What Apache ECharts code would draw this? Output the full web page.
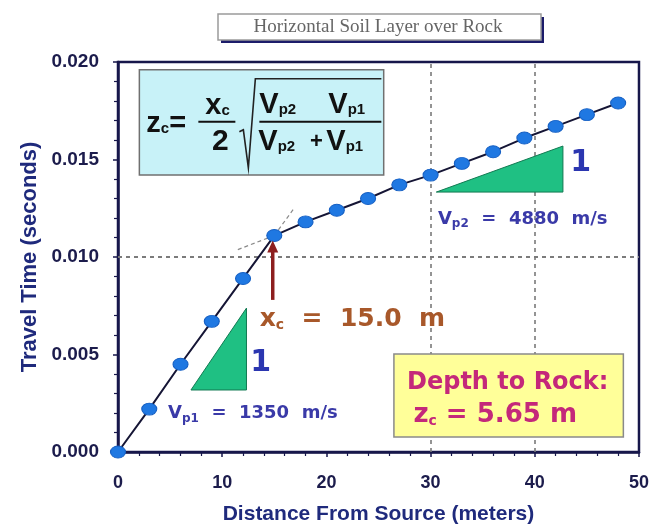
<!DOCTYPE html>
<html><head><meta charset="utf-8">
<script src="https://cdn.jsdelivr.net/npm/echarts@6/dist/echarts.min.js"></script>
<style>html,body{margin:0;padding:0;background:#fff}#c{width:652px;height:530px}</style>
</head><body><div id="c"></div>
<script>
// ---- data ----
const distances = [0, 3, 6, 9, 12, 15, 18, 21, 24, 27, 30, 33, 36, 39, 42, 45, 48];
const travelTimes = [0, 0.0022, 0.0045, 0.0067, 0.0089, 0.0111, 0.0118, 0.0124, 0.0130, 0.0137, 0.0142, 0.0148, 0.0154, 0.0161, 0.0167, 0.0173, 0.0179];
const xTickValues = [0, 10, 20, 30, 40, 50];
const yTickValues = [0, 0.005, 0.010, 0.015, 0.020];
const xGridLines = [30, 40];
const yGridLines = [0.005, 0.010, 0.015];
const titleText = 'Horizontal Soil Layer over Rock';
const xAxisName = 'Distance From Source (meters)';
const yAxisName = 'Travel Time (seconds)';

const navy = '#17174b';
const chart = echarts.init(document.getElementById('c'));
const points = distances.map((d, i) => [d, travelTimes[i]]);

chart.setOption({
  animation: false,
  grid: { left: 118, right: 6, top: 62, bottom: 78, show: true, borderColor: navy, borderWidth: 2.5, backgroundColor: 'transparent' },
  xAxis: {
    type: 'value', min: xTickValues[0], max: xTickValues[xTickValues.length - 1], interval: 10,
    axisLine: { lineStyle: { color: navy, width: 2.5 } },
    axisTick: { show: true, length: 5, lineStyle: { color: navy, width: 1.5 } },
    minorTick: { show: true, splitNumber: 5, length: 4, lineStyle: { color: navy, width: 1.2 } },
    splitLine: { show: false },
    axisLabel: { color: '#1c1c4c', fontFamily: 'Liberation Sans', fontWeight: 'bold', fontSize: 18, margin: 22 },
    name: xAxisName, nameLocation: 'middle', nameGap: 52,
    nameTextStyle: { color: '#1f2a7c', fontFamily: 'Liberation Sans', fontWeight: 'bold', fontSize: 21 }
  },
  yAxis: {
    type: 'value', min: yTickValues[0], max: yTickValues[yTickValues.length - 1], interval: 0.005,
    axisLine: { show: true, lineStyle: { color: navy, width: 2.5 } },
    axisTick: { show: true, length: 5, lineStyle: { color: navy, width: 1.5 } },
    minorTick: { show: true, splitNumber: 5, length: 4, lineStyle: { color: navy, width: 1.2 } },
    splitLine: { show: false },
    axisLabel: { color: '#1c1c4c', fontFamily: 'Liberation Sans', fontWeight: 'bold', fontSize: 19, margin: 19, formatter: v => v.toFixed(3) },
    name: yAxisName, nameLocation: 'middle', nameGap: 76, nameRotate: 90,
    nameTextStyle: { color: '#1f2a7c', fontFamily: 'Liberation Sans', fontWeight: 'bold', fontSize: 22 }
  },
  series: [
    {
      type: 'line', data: [], silent: true, z: 1,
      markLine: {
        silent: true, symbol: ['none', 'none'], label: { show: false }, animation: false,
        lineStyle: { color: '#7a7a7a', type: [4, 4], width: 1.6 },
        data: xGridLines.map(v => ({ xAxis: v })).concat(yGridLines.map(v => ({ yAxis: v })))
      }
    },
    {
      type: 'line', data: points, z: 10,
      lineStyle: { color: '#151535', width: 2 },
      symbol: 'circle', symbolSize: [15, 12],
      itemStyle: { color: '#1f78e2', borderColor: '#1660c4', borderWidth: 1 }
    }
  ]
});

const P = (x, y) => chart.convertToPixel({ gridIndex: 0 }, [x, y]);

function rt(x, y, str, o) {
  const fam = o.family || 'DejaVu Sans';
  const w = o.weight || 'bold';
  return {
    type: 'text', x: x, y: y, z: o.z || 60,
    style: {
      text: str, fill: o.color, align: o.align || 'left', verticalAlign: 'middle',
      fontFamily: fam, fontWeight: w, fontSize: o.size,
      rich: {
        n: { fontFamily: fam, fontWeight: w, fontSize: o.size },
        s: { fontFamily: fam, fontWeight: w, fontSize: o.sub || 12, padding: [(o.drop || 5) * 2, 0, 0, 0] }
      }
    }
  };
}
function ln(x1, y1, x2, y2, color, width, dash, z) {
  return { type: 'line', z: z || 60, shape: { x1, y1, x2, y2 }, style: { stroke: color, lineWidth: width, lineDash: dash || null } };
}

const g = [];
// title box
g.push({ type: 'rect', z: 50, shape: { x: 221, y: 17, width: 323, height: 26 }, style: { fill: '#1c1c6a' } });
g.push({ type: 'rect', z: 51, shape: { x: 218, y: 14, width: 323, height: 26 }, style: { fill: '#fff', stroke: '#9a9a9a', lineWidth: 1.5 } });
g.push({ type: 'text', z: 52, x: 378, y: 27, style: { text: titleText, fill: '#666', fontFamily: 'Liberation Serif', fontSize: 19, align: 'center', verticalAlign: 'middle' } });

// formula box
const b0 = P(2.05, 0.0196), b1 = P(25.5, 0.0142);
const ox = b0[0], oy = b0[1];
g.push({ type: 'rect', z: 55, shape: { x: ox, y: oy, width: b1[0] - ox, height: b1[1] - oy }, style: { fill: '#c8f2f8', stroke: '#707070', lineWidth: 1.5 } });
const F = { family: 'Liberation Sans', weight: 'bold', color: '#111', size: 29, sub: 15, drop: 5 };
g.push(rt(ox + 7, oy + 54, '{n|z}{s|c}{n|=}', F));
g.push(rt(ox + 66, oy + 36, '{n|x}{s|c}', F));
g.push(ln(ox + 59, oy + 52, ox + 96, oy + 52, '#111', 2));
g.push(rt(ox + 81, oy + 72, '2', Object.assign({}, F, { align: 'center', size: 30 })));
g.push({ type: 'polyline', z: 60, shape: { points: [[ox + 100, oy + 62], [ox + 104, oy + 60], [ox + 109, oy + 98], [ox + 116, oy + 9], [ox + 242, oy + 9]] }, style: { stroke: '#222', lineWidth: 1.6, fill: null } });
g.push(rt(ox + 120, oy + 35, '{n|V}{s|p2}', F));
g.push(rt(ox + 189, oy + 35, '{n|V}{s|p1}', F));
g.push(ln(ox + 120, oy + 52, ox + 242, oy + 52, '#111', 2));
g.push(rt(ox + 119, oy + 72, '{n|V}{s|p2}', F));
g.push(rt(ox + 177, oy + 72, '+', Object.assign({}, F, { align: 'center', size: 22 })));
g.push(rt(ox + 187, oy + 72, '{n|V}{s|p1}', F));

// triangles
function tri(pts, z) {
  return { type: 'polygon', z: z || 40, shape: { points: pts.map(p => P(p[0], p[1])) }, style: { fill: '#1fc083', stroke: '#127a52', lineWidth: 1 } };
}
g.push(tri([[7.0, 0.00318], [12.33, 0.00318], [12.33, 0.00738]]));
g.push(tri([[30.55, 0.01333], [42.7, 0.01333], [42.7, 0.01569]]));
const one1 = P(13.7, 0.00455), one2 = P(44.4, 0.01482);
g.push(rt(one1[0], one1[1], '1', { color: '#2b36b0', size: 30, align: 'center' }));
g.push(rt(one2[0], one2[1], '1', { color: '#2b36b0', size: 30, align: 'center' }));

// velocity labels
const v1 = P(4.8, 0.00197), v2 = P(30.7, 0.01195);
g.push(rt(v1[0], v1[1], '{n|V}{s|p1}{n|  =  1350  m/s}', { color: '#3a3aa8', size: 18, sub: 12, drop: 5 }));
g.push(rt(v2[0], v2[1], '{n|V}{s|p2}{n|  =  4880  m/s}', { color: '#3a3aa8', size: 18, sub: 12, drop: 5 }));

// crossover dashed extensions
const k = P(15, 0.0111), e1 = P(11.5, 0.01038), e2 = P(16.9, 0.0125);
g.push(ln(e1[0], e1[1], k[0], k[1], '#8a8a8a', 1.2, [4, 3], 5));
g.push(ln(k[0], k[1], e2[0], e2[1], '#8a8a8a', 1.2, [4, 3], 5));

// crossover arrow
const a0 = P(14.85, 0.0078), a1 = P(14.85, 0.01085);
g.push(ln(a0[0], a0[1], a1[0], a1[1] + 10, '#8d1f1f', 3.5));
g.push({ type: 'polygon', z: 61, shape: { points: [[a1[0], a1[1]], [a1[0] - 5.5, a1[1] + 12], [a1[0] + 5.5, a1[1] + 12]] }, style: { fill: '#8d1f1f' } });
const xc = P(13.6, 0.0068);
g.push(rt(xc[0], xc[1], '{n|x}{s|c}{n|  =  15.0  m}', { color: '#a8582a', size: 25, sub: 14, drop: 6 }));

// depth box
const d0 = P(26.48, 0.00503), d1 = P(48.5, 0.00077);
g.push({ type: 'rect', z: 55, shape: { x: d0[0], y: d0[1], width: d1[0] - d0[0], height: d1[1] - d0[1] }, style: { fill: '#ffff99', stroke: '#8a8a8a', lineWidth: 1.5 } });
const t1 = P(37.4, 0.00354), t2 = P(36.2, 0.0019);
g.push(rt(t1[0], t1[1], 'Depth to Rock:', { color: '#c4287a', size: 24, align: 'center' }));
g.push(rt(t2[0], t2[1], '{n|z}{s|c}{n| = 5.65 m}', { color: '#c4287a', size: 26, sub: 14, drop: 6, align: 'center' }));

chart.setOption({ graphic: g });
</script>
</body></html>
